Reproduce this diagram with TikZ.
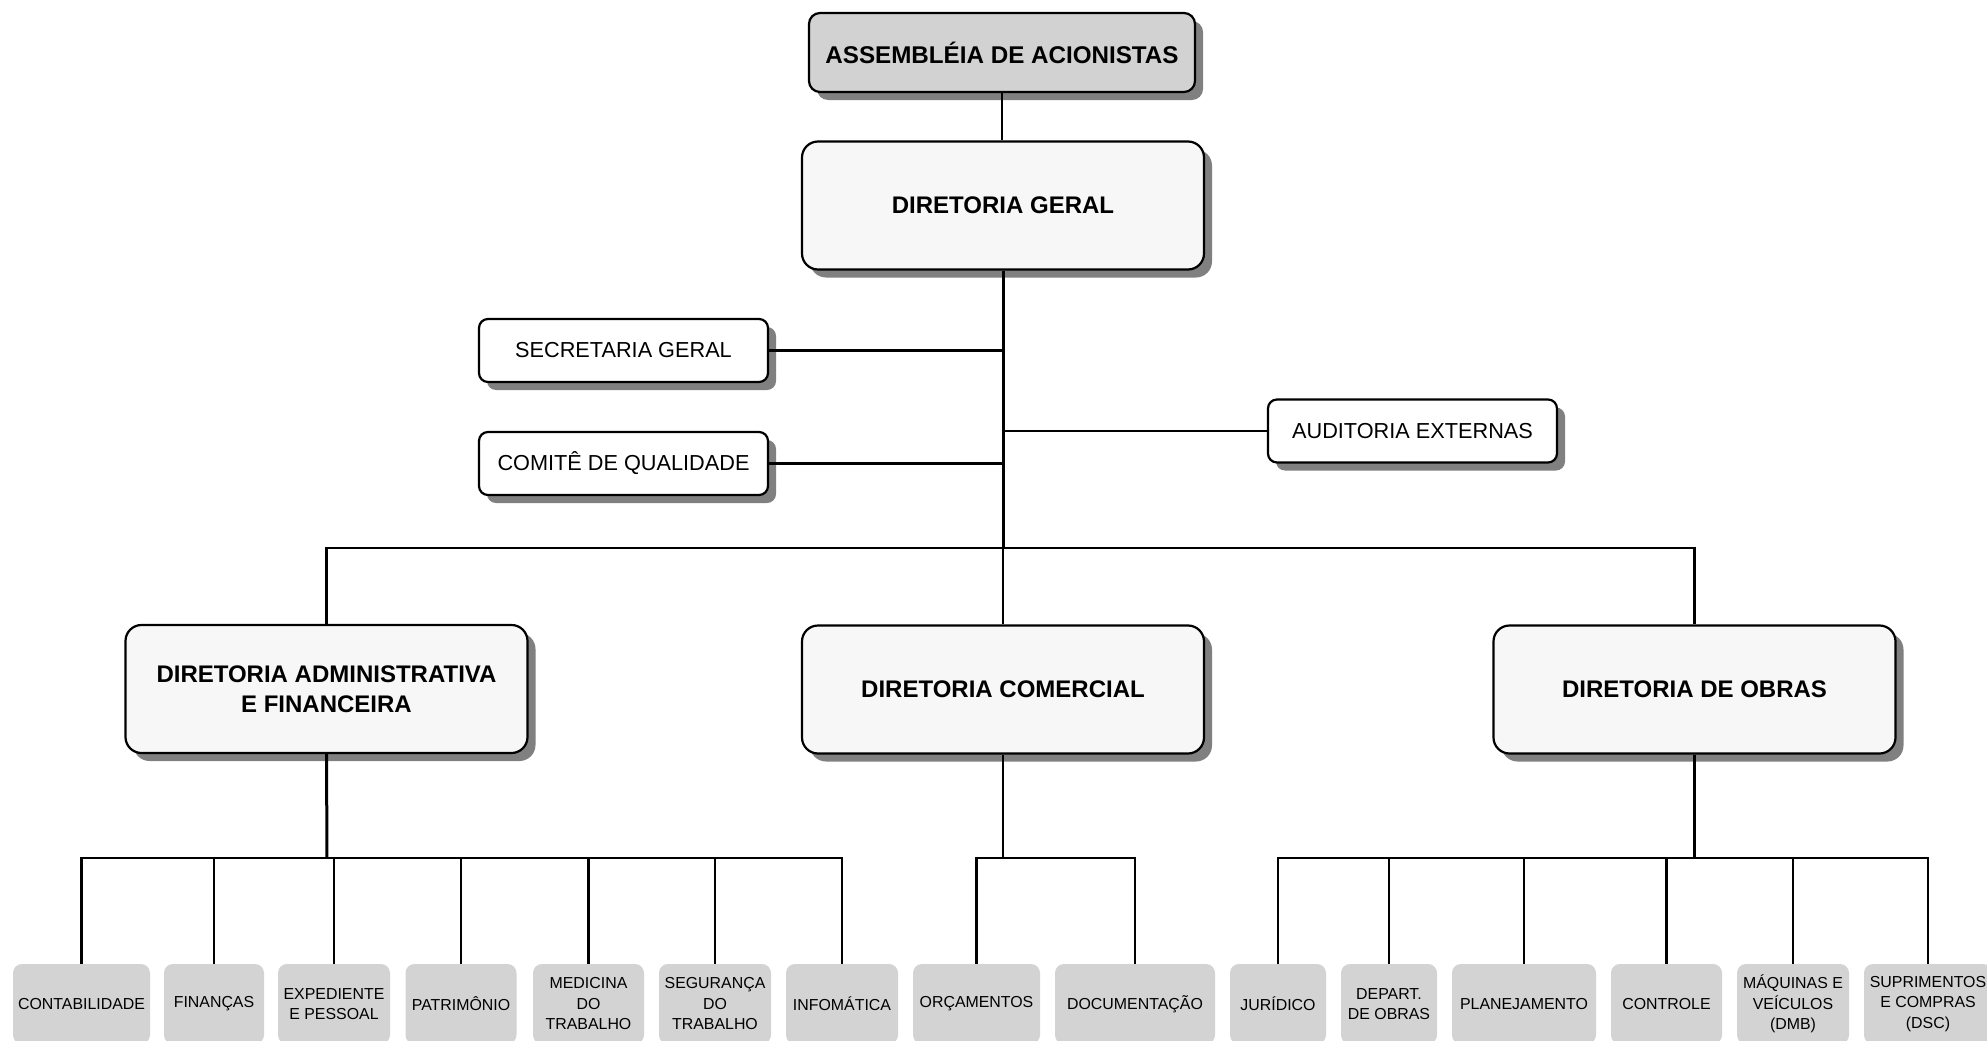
\documentclass[tikz,border=0pt]{standalone}
\usepackage{fontspec}
\setmainfont{Liberation Sans}
\usetikzlibrary{shadows}
\definecolor{headfill}{HTML}{F7F7F7}
\definecolor{topfill}{HTML}{D2D2D2}
\definecolor{unitfill}{HTML}{D3D3D3}
\definecolor{shadowgray}{HTML}{808080}

\tikzset{
  shadowed/.style={drop shadow={shadow xshift=8pt, shadow yshift=-8pt, fill=shadowgray, opacity=1}},
  framebox/.style={shadowed, draw=black, line width=2.2pt, align=center, inner sep=0pt, text=black},
  topbox/.style={framebox, fill=topfill, rounded corners=11pt,
    font=\fontsize{24.2}{29}\selectfont\bfseries, minimum width=386pt, minimum height=79pt},
  headbox/.style={framebox, fill=headfill, rounded corners=16pt,
    font=\fontsize{24}{29.5}\selectfont\bfseries, minimum width=402pt, minimum height=128pt},
  staffbox/.style={framebox, fill=white, rounded corners=9pt,
    font=\fontsize{21.7}{26}\selectfont, minimum width=289pt, minimum height=63pt},
  unitbox/.style={fill=unitfill, rounded corners=9pt, align=center, inner sep=0pt,
    font=\fontsize{15.9}{20.5}\selectfont, minimum height=80pt},
  link/.style={line width=2.2pt, black},
  trunk/.style={line width=3pt, black},
}

\begin{document}
\begin{tikzpicture}[x=1pt, y=-1pt]
  \useasboundingbox (0,0) rectangle (1987,1041);
  \fill[white] (0,0) rectangle (1987,1041);
  \clip (0,0) rectangle (1987,1041);

  % top of the hierarchy
  \node[topbox] (asm) at (1002,52.5) {ASSEMBLÉIA DE ACIONISTAS};
  \node[headbox] (dg) at (1003,205.5) {DIRETORIA GERAL};

  % staff bodies
  \node[staffbox] (sec) at (623.5,350.5) {SECRETARIA GERAL};
  \node[staffbox] (com) at (623.5,463.5) {COMITÊ DE QUALIDADE};
  \node[staffbox] (aud) at (1412.5,431) {AUDITORIA EXTERNAS};

  % directorates
  \node[headbox] (daf) at (326.5,689) {DIRETORIA ADMINISTRATIVA\\E FINANCEIRA};
  \node[headbox] (dc)  at (1003,689.5) {DIRETORIA COMERCIAL};
  \node[headbox] (dob) at (1694.5,689.5) {DIRETORIA DE OBRAS};

  % departments
  \node[unitbox, minimum width=137pt] (cont) at (81.5,1004) {CONTABILIDADE};
  \node[unitbox, minimum width=100pt] (fin)  at (214,1004) {FINANÇAS};
  \node[unitbox, minimum width=112pt] (exp)  at (334,1004) {EXPEDIENTE\\E PESSOAL};
  \node[unitbox, minimum width=111pt] (pat)  at (461,1004) {PATRIMÔNIO};
  \node[unitbox, minimum width=111pt] (med)  at (588.5,1004) {MEDICINA\\DO\\TRABALHO};
  \node[unitbox, minimum width=112pt] (seg)  at (715,1004) {SEGURANÇA\\DO\\TRABALHO};
  \node[unitbox, minimum width=112pt] (inf)  at (842,1004) {INFOMÁTICA};
  \node[unitbox, minimum width=127pt] (orc)  at (976.5,1004) {ORÇAMENTOS};
  \node[unitbox, minimum width=160pt] (doc)  at (1135,1004) {DOCUMENTAÇÃO};
  \node[unitbox, minimum width=96pt]  (jur)  at (1278,1004) {JURÍDICO};
  \node[unitbox, minimum width=96pt]  (dep)  at (1389,1004) {DEPART.\\DE OBRAS};
  \node[unitbox, minimum width=144pt] (pla)  at (1524,1004) {PLANEJAMENTO};
  \node[unitbox, minimum width=111pt] (ctl)  at (1666.5,1004) {CONTROLE};
  \node[unitbox, minimum width=112pt] (maq)  at (1793,1004) {MÁQUINAS E\\VEÍCULOS\\(DMB)};
  \node[unitbox, minimum width=128pt] (sup)  at (1928,1004) {SUPRIMENTOS\\E COMPRAS\\(DSC)};

  % junction points
  \coordinate (hub) at (1003,548);
  \coordinate (bafin) at (327,858);
  \coordinate (bcom) at (1003,858);
  \coordinate (bobr) at (1694.5,858);

  % upper connectors
  \draw[link] (asm.south) -- (asm.south |- dg.north);
  \draw[trunk] (dg.south) -- (hub);
  \draw[link] (sec.east) -- (sec.east -| hub);
  \draw[link] (com.east) -- (com.east -| hub);
  \draw[link] (aud.west) -- (aud.west -| hub);
  \draw[link] (daf.north) -- (daf.north |- hub) -- (dob.north |- hub) -- (dob.north);
  \draw[link] (hub) -- (dc.north);

  % administrative and financial branch
  \draw[trunk] (daf.south) -- (bafin);
  \draw[link] (cont.north) -- (cont.north |- bafin) -- (inf.north |- bafin) -- (inf.north);
  \foreach \u in {fin,exp,pat,med,seg}
    \draw[link] (\u.north) -- (\u.north |- bafin);

  % commercial branch
  \draw[link] (dc.south) -- (bcom);
  \draw[link] (orc.north) -- (orc.north |- bcom) -- (doc.north |- bcom) -- (doc.north);

  % works branch
  \draw[link] (dob.south) -- (bobr);
  \draw[link] (jur.north) -- (jur.north |- bobr) -- (sup.north |- bobr) -- (sup.north);
  \foreach \u in {dep,pla,ctl,maq}
    \draw[link] (\u.north) -- (\u.north |- bobr);
\end{tikzpicture}
\end{document}
